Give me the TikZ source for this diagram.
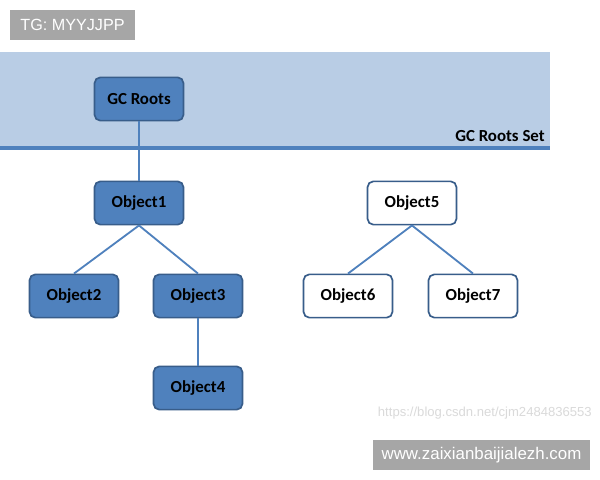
\documentclass[tikz,border=0pt]{standalone}
\usepackage{fontspec}
\setmainfont{Carlito}
\newfontfamily\wmfont{Liberation Sans}
\usepackage{xcolor}
\usepackage{tikz}
\definecolor{objblue}{HTML}{4F81BD}
\definecolor{objedge}{HTML}{385D8A}
\definecolor{setband}{HTML}{B9CDE5}
\definecolor{wmgrey}{HTML}{A6A6A6}
\definecolor{urlgrey}{HTML}{DADADA}
\newcommand{\objbox}[4]{%
  \node[#1] (#2) at (#3) {#4};}

\begin{document}
\begin{tikzpicture}[x=0.025cm,y=-0.025cm,
  obj/.style={draw=objedge,line width=1.2pt,rounded corners=4pt,
    minimum width=2.22cm,minimum height=1.08cm,
    font=\fontsize{12}{14}\selectfont\bfseries},
  live/.style={obj,fill=objblue},
  dead/.style={obj,fill=white},
  link/.style={draw=objblue,line width=1.3pt}]
  \useasboundingbox[fill=white] (0,0) rectangle (600,480);
  % root set band
  \fill[setband] (0,52) rectangle (550,148);
  \draw[objblue,line width=2.2pt] (0,148) -- (550,148);
  \node[anchor=south east,inner sep=0pt,font=\fontsize{12}{14}\selectfont\bfseries]
    (setlbl) at (545,142) {GC Roots Set};
  % reachable objects
  \objbox{live}{roots}{139,99}{GC Roots}
  \objbox{live}{obj1}{139,203}{Object1}
  \objbox{live}{obj2}{74,296}{Object2}
  \objbox{live}{obj3}{198,296}{Object3}
  \objbox{live}{obj4}{198,388}{Object4}
  % unreachable objects
  \objbox{dead}{obj5}{412,203}{Object5}
  \objbox{dead}{obj6}{348,296}{Object6}
  \objbox{dead}{obj7}{473,296}{Object7}
  \draw[link] (roots) -- (obj1);
  \draw[link] (obj1.south) -- (obj2.north);
  \draw[link] (obj1.south) -- (obj3.north);
  \draw[link] (obj3) -- (obj4);
  \draw[link] (obj5.south) -- (obj6.north);
  \draw[link] (obj5.south) -- (obj7.north);
  % watermarks
  \fill[wmgrey] (10,10) rectangle (135,40);
  \node[text=white,font=\wmfont\fontsize{11.5}{13}\selectfont] (tg) at (72.5,25) {TG: MYYJJPP};
  \node[text=urlgrey,font=\wmfont\fontsize{9.3}{11}\selectfont,anchor=east,inner sep=0pt] (url) at (592,413)
    {https://blog.csdn.net/cjm2484836553};
  \fill[wmgrey] (373,440) rectangle (590,470);
  \node[text=white,font=\wmfont\fontsize{12}{14}\selectfont] (site) at (481.5,455)
    {www.zaixianbaijialezh.com};
\end{tikzpicture}
\end{document}
